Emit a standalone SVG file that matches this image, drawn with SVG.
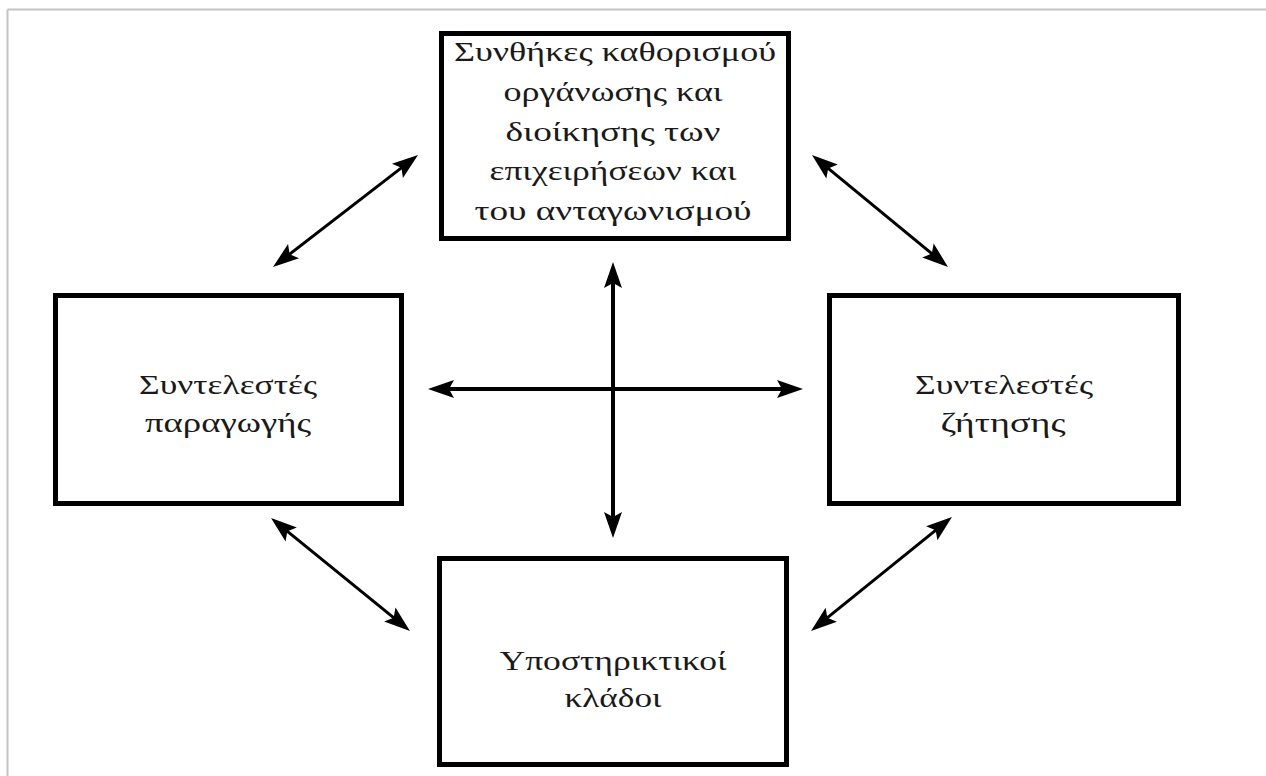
<svg xmlns="http://www.w3.org/2000/svg" width="1266" height="776" viewBox="0 0 1266 776">
  <style>
    .box { fill: #ffffff; stroke: #000000; stroke-width: 5; }
    .lbl { font-family: "Liberation Serif", "Times New Roman", serif; font-size: 28px; fill: #1a1a1a; text-anchor: middle; }
    .conn { stroke: #000000; stroke-width: 3; fill: none; marker-start: url(#ah); marker-end: url(#ah); }
    .conn.thick { stroke-width: 4; }
  </style>
  <defs>
    <marker id="ah" viewBox="-18 -11 30 22" refX="0" refY="0" markerWidth="30" markerHeight="22" markerUnits="userSpaceOnUse" orient="auto-start-reverse">
      <path d="M10,0 L-16,-9 L-11,0 L-16,9 Z" fill="#000000"/>
    </marker>
  </defs>
  <rect x="0" y="0" width="1266" height="776" fill="#ffffff"/>
  <g id="frame">
    <line x1="7.5" y1="9.5" x2="1266" y2="9.5" stroke="#c4c4c4" stroke-width="2"/>
    <line x1="7.5" y1="9.5" x2="7.5" y2="776" stroke="#c4c4c4" stroke-width="2"/>
  </g>
  <g id="connectors">
    <line class="conn" x1="280.9" y1="260.9" x2="410.1" y2="161.1"/>
    <line class="conn" x1="819.7" y1="161.4" x2="940.3" y2="260.6"/>
    <line class="conn" x1="278.8" y1="524.3" x2="402.2" y2="624.7"/>
    <line class="conn" x1="944.2" y1="523.3" x2="818.8" y2="624.7"/>
    <line class="conn thick" x1="613" y1="272" x2="613" y2="528"/>
    <line class="conn thick" x1="438" y1="389" x2="793" y2="389"/>
  </g>
  <g id="node-top">
    <rect class="box" x="441.5" y="33.5" width="347" height="205"/>
    <text class="lbl" x="615" y="61" textLength="322" lengthAdjust="spacingAndGlyphs">Συνθήκες καθορισμού</text>
    <text class="lbl" x="613" y="101" textLength="219" lengthAdjust="spacingAndGlyphs">οργάνωσης και</text>
    <text class="lbl" x="613" y="141" textLength="215" lengthAdjust="spacingAndGlyphs">διοίκησης των</text>
    <text class="lbl" x="613" y="180" textLength="247" lengthAdjust="spacingAndGlyphs">επιχειρήσεων και</text>
    <text class="lbl" x="613" y="220" textLength="277" lengthAdjust="spacingAndGlyphs">του ανταγωνισμού</text>
  </g>
  <g id="node-left">
    <rect class="box" x="55.5" y="295.5" width="346" height="208"/>
    <text class="lbl" x="228" y="394" textLength="178" lengthAdjust="spacingAndGlyphs">Συντελεστές</text>
    <text class="lbl" x="228" y="432" textLength="166" lengthAdjust="spacingAndGlyphs">παραγωγής</text>
  </g>
  <g id="node-right">
    <rect class="box" x="829.5" y="295.5" width="349" height="208"/>
    <text class="lbl" x="1004" y="394" textLength="178" lengthAdjust="spacingAndGlyphs">Συντελεστές</text>
    <text class="lbl" x="1003" y="432" textLength="125" lengthAdjust="spacingAndGlyphs">ζήτησης</text>
  </g>
  <g id="node-bottom">
    <rect class="box" x="439.5" y="558.5" width="347" height="206"/>
    <text class="lbl" x="613" y="670" textLength="227" lengthAdjust="spacingAndGlyphs">Υποστηρικτικοί</text>
    <text class="lbl" x="613" y="707" textLength="97" lengthAdjust="spacingAndGlyphs">κλάδοι</text>
  </g>
</svg>
